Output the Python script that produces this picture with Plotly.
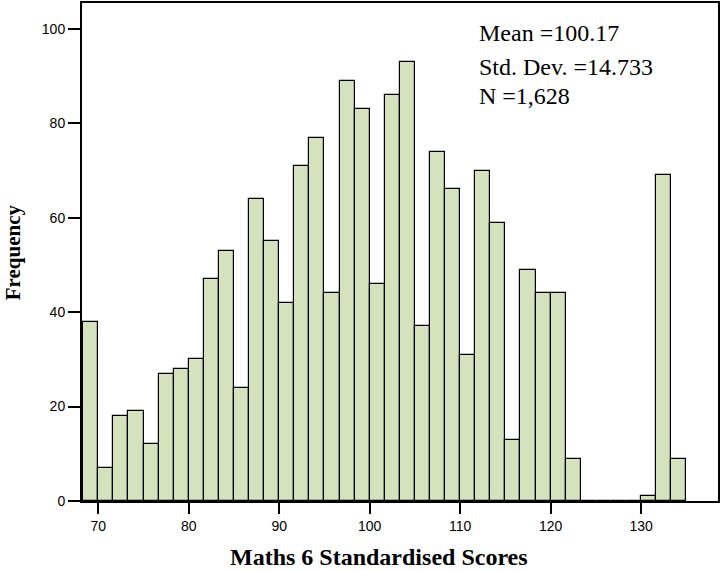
import plotly.graph_objects as go

# Histogram of Maths 6 standardised scores (bin width 5/3, first bin starts at 68 1/3)
bin_start = 68 + 1 / 3
bin_width = 5 / 3
counts = [38, 7, 18, 19, 12, 27, 28, 30, 47, 53,
          24, 64, 55, 42, 71, 77, 44, 89, 83, 46,
          86, 93, 37, 74, 66, 31, 70, 59, 13, 49,
          44, 44, 9, 0, 0, 0, 0, 1, 69, 9]
x_ticks = [70, 80, 90, 100, 110, 120, 130]
y_ticks = [0, 20, 40, 60, 80, 100]
stats_lines = ["Mean =100.17", "Std. Dev. =14.733", "N =1,628"]

centers = [bin_start + (i + 0.5) * bin_width for i in range(len(counts))]

fig = go.Figure()
fig.add_trace(go.Bar(
    x=centers, y=counts, width=[bin_width] * len(counts),
    marker=dict(color="#d6e2bd", line=dict(color="black", width=1.2)),
    hoverinfo="x+y",
))

axis_font = dict(family="Liberation Sans, Arial, sans-serif", size=14, color="black")
fig.update_layout(
    width=721, height=571,
    margin=dict(l=82, r=1, t=2, b=70),
    paper_bgcolor="white", plot_bgcolor="white",
    showlegend=False, bargap=0,
    xaxis=dict(range=[68.2, 138.5], tickvals=x_ticks, ticks="outside",
               ticklen=11, tickwidth=1.5, tickcolor="black",
               showline=True, linecolor="black", linewidth=2, mirror=True,
               showgrid=False, zeroline=False, tickfont=axis_font),
    yaxis=dict(range=[0, 105.5], tickvals=y_ticks, ticks="outside",
               ticklen=12, tickwidth=1.5, tickcolor="black",
               showline=True, linecolor="black", linewidth=2, mirror=True,
               showgrid=False, zeroline=False, tickfont=axis_font),
)

serif = "Liberation Serif, Times New Roman, serif"
for text, yv in zip(stats_lines, [99.2, 92.0, 85.8]):
    fig.add_annotation(x=111.85, y=yv, xref="x", yref="y", text=text,
                       showarrow=False, xanchor="left", yanchor="middle",
                       font=dict(family=serif, size=24, color="black"))

fig.add_annotation(x=0.467, y=-0.112, xref="paper", yref="paper",
                   text="<b>Maths 6 Standardised Scores</b>", showarrow=False,
                   xanchor="center", yanchor="middle",
                   font=dict(family=serif, size=24, color="black"))
fig.add_annotation(x=-0.108, y=0.5, xref="paper", yref="paper",
                   text="<b>Frequency</b>", showarrow=False, textangle=-90,
                   xanchor="center", yanchor="middle",
                   font=dict(family=serif, size=21, color="black"))

fig.write_html("out.html")
